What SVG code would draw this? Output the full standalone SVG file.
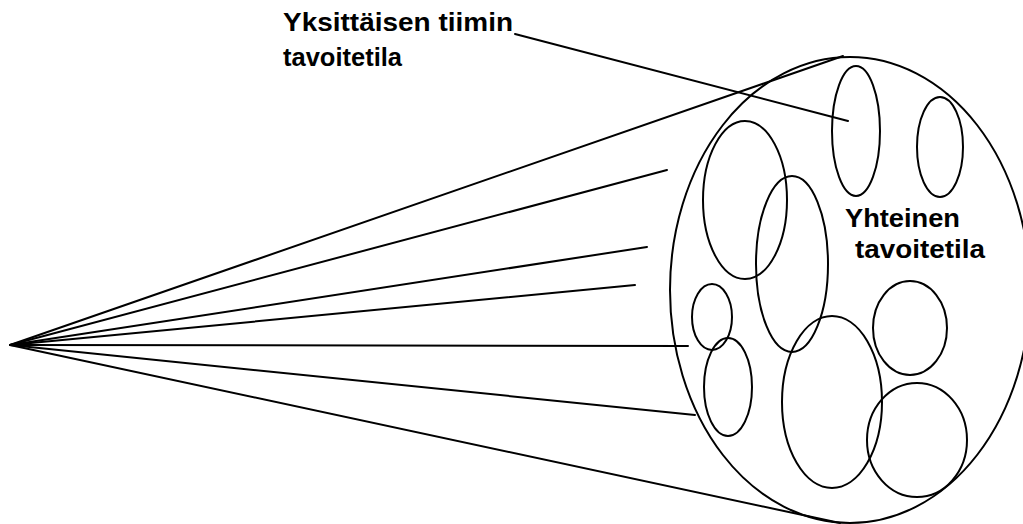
<svg xmlns="http://www.w3.org/2000/svg" width="1023" height="524" viewBox="0 0 1023 524">
<style>
.bg{fill:#fff}
.ol{fill:none;stroke:#000;stroke-width:2}
.ln{stroke:#000;stroke-width:2;fill:none;stroke-linecap:round}
.lbl{font-family:"Liberation Sans",Arial,sans-serif;font-weight:bold;fill:#000}
</style>
<rect class="bg" x="0" y="0" width="1023" height="524"/>
<g id="connectors">
<line class="ln" x1="10" y1="345" x2="843" y2="56"/>
<line class="ln" x1="10" y1="345" x2="667" y2="170"/>
<line class="ln" x1="10" y1="345" x2="647" y2="247"/>
<line class="ln" x1="10" y1="345" x2="635" y2="285"/>
<line class="ln" x1="10" y1="345" x2="688" y2="346"/>
<line class="ln" x1="10" y1="345" x2="695" y2="415"/>
<line class="ln" x1="10" y1="345" x2="840" y2="523"/>
<line class="ln" x1="515" y1="34" x2="848" y2="121"/>
</g>
<g id="common-goal">
<ellipse class="ol" cx="850" cy="290" rx="180" ry="233"/>
<text class="lbl" x="845" y="227" font-size="26" textLength="115" lengthAdjust="spacingAndGlyphs">Yhteinen</text>
<text class="lbl" x="855" y="258" font-size="26" textLength="130" lengthAdjust="spacingAndGlyphs">tavoitetila</text>
</g>
<g id="team-a"><ellipse class="ol" cx="856" cy="131" rx="24" ry="65"/></g>
<g id="team-b"><ellipse class="ol" cx="940" cy="147" rx="23" ry="50"/></g>
<g id="team-c"><ellipse class="ol" cx="745" cy="200" rx="42" ry="79"/></g>
<g id="team-d"><ellipse class="ol" cx="792" cy="264" rx="36" ry="88"/></g>
<g id="team-e"><ellipse class="ol" cx="712" cy="317" rx="20" ry="33"/></g>
<g id="team-f"><ellipse class="ol" cx="728" cy="387" rx="24" ry="49"/></g>
<g id="team-g"><ellipse class="ol" cx="832" cy="402" rx="50" ry="86"/></g>
<g id="team-h"><ellipse class="ol" cx="910" cy="328" rx="37" ry="47"/></g>
<g id="team-i"><ellipse class="ol" cx="917" cy="440" rx="50" ry="57"/></g>
<g id="team-label">
<text class="lbl" x="283" y="31" font-size="25" textLength="230" lengthAdjust="spacingAndGlyphs">Yksittäisen tiimin</text>
<text class="lbl" x="283" y="66" font-size="25" textLength="119" lengthAdjust="spacingAndGlyphs">tavoitetila</text>
</g>
</svg>
